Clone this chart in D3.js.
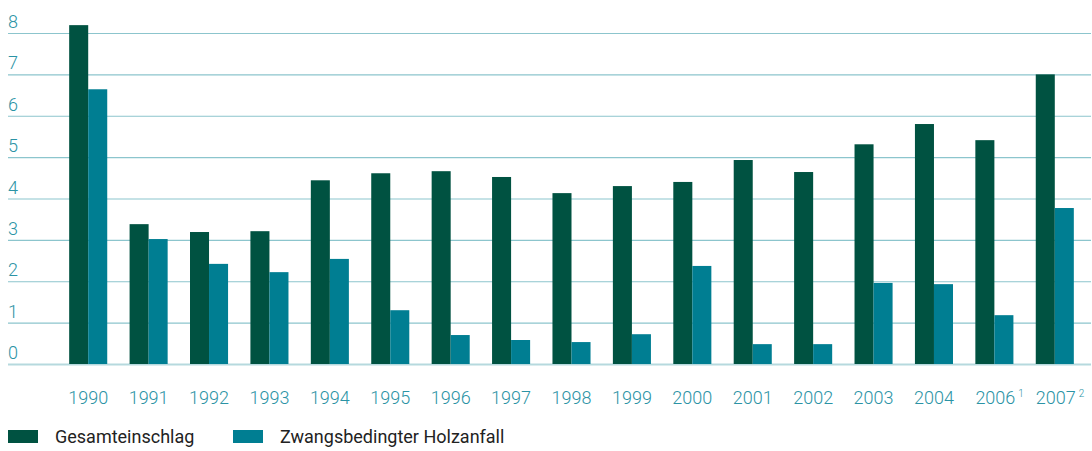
<!DOCTYPE html>
<html lang="de">
<head>
<meta charset="UTF-8">
<script src="https://d3js.org/d3.v7.min.js"></script>
<style>
    body { margin: 0; background: #fff; }
    svg text { font-family: Roboto, "DejaVu Sans", sans-serif; }
</style>
</head>
<body>
<svg width="1092" height="451"></svg>
<script>
// data
var years = ["1990","1991","1992","1993","1994","1995","1996","1997","1998","1999","2000","2001","2002","2003","2004","2006","2007"];
var yearNotes = ["","","","","","","","","","","","","","","","1","2"];
var gesamt = [8.19,3.38,3.19,3.21,4.44,4.61,4.66,4.52,4.13,4.30,4.40,4.93,4.64,5.31,5.80,5.41,7.00];
var zwang = [6.64,3.02,2.42,2.22,2.54,1.30,0.70,0.58,0.53,0.72,2.37,0.48,0.48,1.96,1.93,1.18,3.77];
var yTicks = [0,1,2,3,4,5,6,7,8];
var seriesNames = ["Gesamteinschlag", "Zwangsbedingter Holzanfall"];
var colors = ["#005241", "#007e92"];

var svg = d3.select("svg");
var gridLeft = 8, gridRight = 1091;

var x = d3.scaleBand()
    .domain(years)
    .range([58, 1085])
    .paddingInner(0.37)
    .paddingOuter(0.185);
var sub = d3.scaleBand()
    .domain([0, 1])
    .range([0, x.bandwidth()]);
var y = d3.scaleLinear()
    .domain([0, 8])
    .range([364, 33]);

// gridlines + y labels
var yAxis = d3.axisLeft(y)
    .tickValues(yTicks)
    .tickSize(-(gridRight - gridLeft))
    .tickFormat(d3.format("d"));
var gy = svg.append("g")
    .attr("transform", "translate(" + gridLeft + ",0)")
    .call(yAxis);
gy.select(".domain").remove();
gy.selectAll(".tick line")
    .attr("stroke", "#8cc5cd")
    .attr("stroke-width", 1.2);
gy.selectAll(".tick")
    .filter(function(d) { return d === 0; })
    .select("line")
    .attr("stroke", "#b6d9de")
    .attr("stroke-width", 2);
gy.selectAll(".tick text")
    .attr("x", 0)
    .attr("dy", "-0.3em")
    .attr("text-anchor", "start")
    .attr("fill", "#2b93a5")
    .attr("font-size", "18px")
    .attr("font-weight", 300);

// bars
var groups = svg.append("g").selectAll("g")
    .data(years)
    .enter().append("g")
    .attr("transform", function(d) { return "translate(" + x(d) + ",0)"; });

groups.append("rect")
    .attr("x", sub(0))
    .attr("width", sub.bandwidth())
    .attr("y", function(d, i) { return y(gesamt[i]); })
    .attr("height", function(d, i) { return y(0) - y(gesamt[i]); })
    .attr("fill", colors[0]);

groups.append("rect")
    .attr("x", sub(1))
    .attr("width", sub.bandwidth())
    .attr("y", function(d, i) { return y(zwang[i]); })
    .attr("height", function(d, i) { return y(0) - y(zwang[i]); })
    .attr("fill", colors[1]);

// x labels
var xAxis = d3.axisBottom(x).tickSize(0).tickPadding(0);
var gx = svg.append("g")
    .attr("transform", "translate(0,404)")
    .call(xAxis);
gx.select(".domain").remove();
gx.selectAll(".tick text")
    .attr("y", 0)
    .attr("dy", 0)
    .attr("fill", "#2b93a5")
    .attr("font-size", "18px")
    .attr("font-weight", 300)
    .each(function(d, i) {
        var note = yearNotes[i];
        if (note) {
            var t = d3.select(this);
            t.attr("text-anchor", "start").attr("x", -19);
            t.append("tspan")
                .attr("dx", 3)
                .attr("dy", -7)
                .attr("font-size", "10px")
                .text(note);
        }
    });

// legend
var legend = svg.append("g").attr("transform", "translate(8,430)");
var items = legend.selectAll("g")
    .data(seriesNames)
    .enter().append("g")
    .attr("transform", function(d, i) { return "translate(" + (i * 225) + ",0)"; });
items.append("rect")
    .attr("width", 30)
    .attr("height", 13)
    .attr("fill", function(d, i) { return colors[i]; });
items.append("text")
    .attr("x", 47)
    .attr("y", 13)
    .attr("font-size", "18px")
    .attr("fill", "#222")
    .text(function(d) { return d; });
</script>
</body>
</html>
